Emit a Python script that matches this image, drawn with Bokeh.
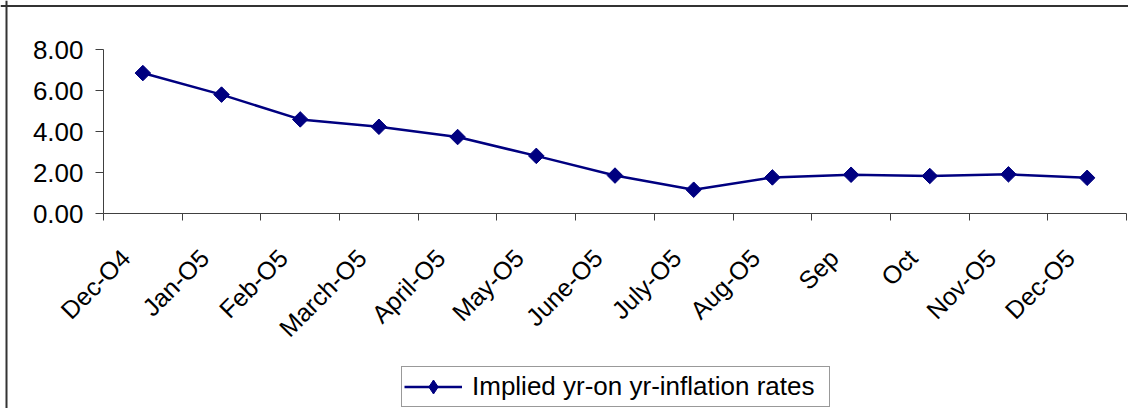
from math import pi
from bokeh.plotting import figure
from bokeh.models import (ColumnDataSource, Range1d, FixedTicker, NumeralTickFormatter,
                          Legend, LegendItem, Span)
from bokeh.embed import file_html
from bokeh.resources import INLINE

months = ["Dec-O4", "Jan-O5", "Feb-O5", "March-O5", "April-O5", "May-O5", "June-O5",
          "July-O5", "Aug-O5", "Sep", "Oct", "Nov-O5", "Dec-O5"]
rates = [6.85, 5.80, 4.59, 4.23, 3.73, 2.81, 1.85, 1.16, 1.76, 1.89, 1.83, 1.91, 1.74]
y_ticks = [0, 2, 4, 6, 8]
series_name = "Implied yr-on yr-inflation rates"

FONT = "Liberation Sans"
NAVY = "#000080"
AXIS = "#404040"

n = len(months)
x = [i + 0.5 for i in range(n)]
src = ColumnDataSource(dict(x=x, y=rates, m=months))

# canvas geometry (pixels): whole canvas is the frame; axes are fixed inside it
W, H = 1128, 408
ax_left, ax_right = 103, 1126     # x = 0 and x = n
ax_top, ax_bottom = 49, 213       # y = 8 and y = 0
pxx = (ax_right - ax_left) / n
pxy = (ax_bottom - ax_top) / 8.0
x_range = Range1d(-ax_left / pxx, n + (W - ax_right) / pxx)
y_range = Range1d(-(H - ax_bottom) / pxy, 8 + ax_top / pxy)

p = figure(width=W, height=H, output_backend="svg", toolbar_location=None,
           x_range=x_range, y_range=y_range,
           min_border_left=0, min_border_right=0, min_border_top=0,
           min_border_bottom=0)
p.outline_line_color = None
p.xgrid.visible = False
p.ygrid.visible = False
p.background_fill_color = "white"
p.border_fill_color = "white"

# outer chart-area border (left and top edges visible in the window)
p.add_layout(Span(location=x_range.start + 6 / pxx, dimension="height",
                  line_color="#333", line_width=2))
p.add_layout(Span(location=y_range.end - 5.5 / pxy, dimension="width",
                  line_color="#333", line_width=2))

# y axis
ya = p.yaxis[0]
ya.fixed_location = 0
ya.bounds = (0, 8)
ya.ticker = FixedTicker(ticks=y_ticks, minor_ticks=[])
ya.formatter = NumeralTickFormatter(format="0.00")
ya.major_tick_in = 0
ya.major_tick_out = 8
ya.major_label_standoff = 12
ya.axis_line_color = AXIS
ya.major_tick_line_color = AXIS
ya.major_label_text_font = FONT
ya.major_label_text_font_size = "26px"
ya.major_label_text_color = "black"

# x axis: labels near category centres, tick marks at category boundaries
label_shift = 17 / pxx
label_pos = [xi - label_shift for xi in x]
xa = p.xaxis[0]
xa.fixed_location = 0
xa.bounds = (0, n)
xa.ticker = FixedTicker(ticks=label_pos, minor_ticks=list(range(n + 1)))
xa.major_label_overrides = {float(xi): m for xi, m in zip(label_pos, months)}
xa.major_tick_in = 0
xa.major_tick_out = 0
xa.minor_tick_in = 0
xa.minor_tick_out = 7
xa.minor_tick_line_color = AXIS
xa.axis_line_color = AXIS
xa.major_label_orientation = pi / 4
xa.major_label_standoff = 33
xa.major_label_text_font = FONT
xa.major_label_text_font_size = "25px"
xa.major_label_text_color = "black"

ln = p.line("x", "y", source=src, line_color=NAVY, line_width=2.5)
# diamond used for the legend symbol; it sits fully under the plot markers below
leg_marker = p.scatter("x", "y", source=src, marker="diamond", size=14,
                       fill_color=NAVY, line_color=NAVY)
sc = p.scatter("x", "y", source=src, marker="square", angle=pi / 4, size=11,
               fill_color=NAVY, line_color=NAVY)

legend = Legend(items=[LegendItem(label=series_name, renderers=[ln, leg_marker])],
                location=(401, 1), orientation="horizontal",
                border_line_color="#333", border_line_width=1,
                background_fill_color="white", background_fill_alpha=1,
                label_text_font=FONT, label_text_font_size="26px",
                label_text_color="black", label_text_baseline="middle",
                glyph_width=58, glyph_height=35, label_standoff=10,
                label_width=355, padding=2, margin=0, spacing=0)
p.add_layout(legend)

open("out.html", "w").write(file_html(p, INLINE))
